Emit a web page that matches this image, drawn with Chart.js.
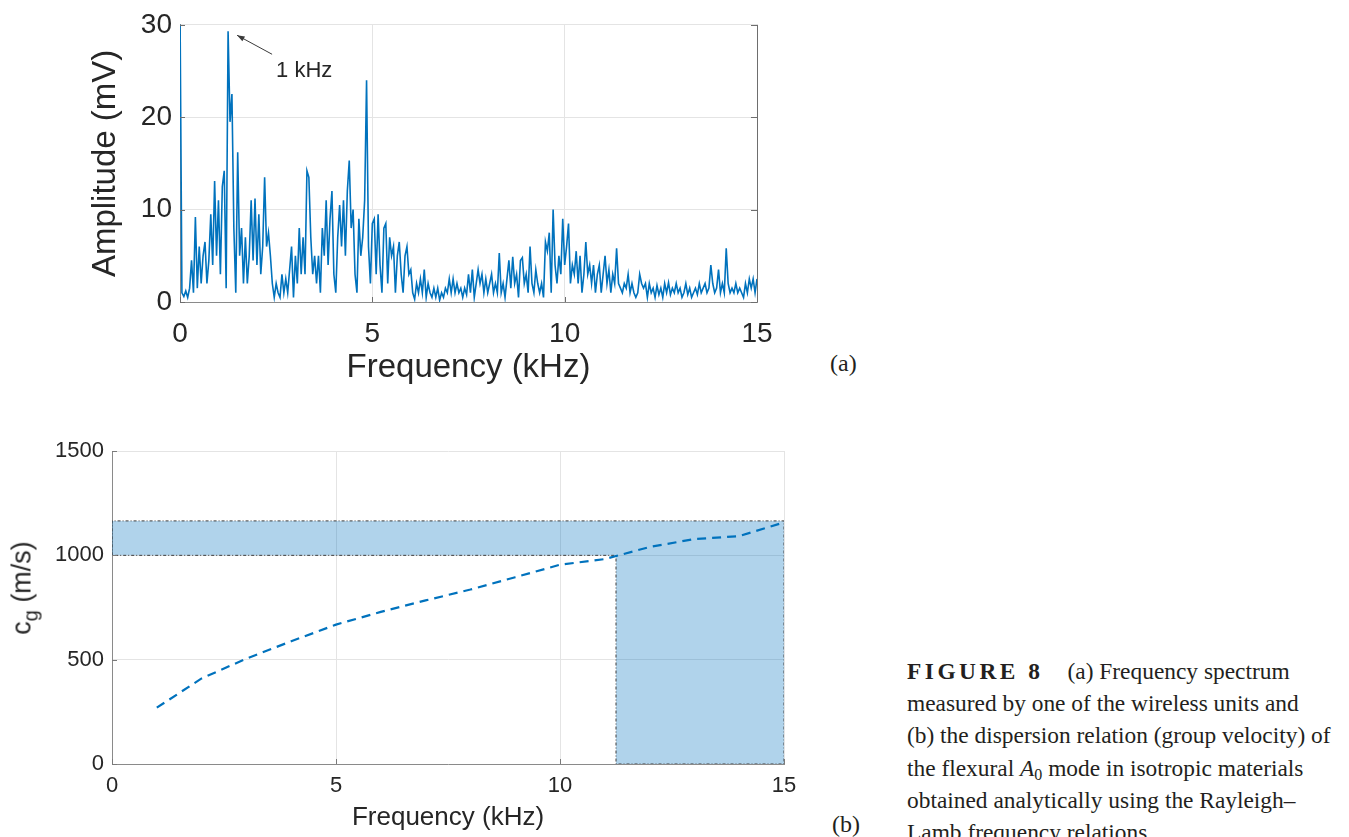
<!DOCTYPE html>
<html lang="en">
<head>
    <meta charset="UTF-8">
    <title>Figure 8 - spectrum and dispersion</title>
    <script src="https://cdn.jsdelivr.net/npm/chart.js"></script>
    <style>
        body {
            margin: 0;
            width: 1349px;
            height: 837px;
            overflow: hidden;
            position: relative;
            background: #fff;
        }
        .panel { position: absolute; }
        .tag {
            position: absolute;
            font: 24px "Liberation Serif", "Times New Roman", serif;
            color: #231f20;
        }
        #cgLabel {
            position: absolute;
            left: 22px;
            top: 588px;
            transform: translate(-50%, -50%) rotate(-90deg);
            font: 27px "Liberation Sans", Arial, sans-serif;
            color: #262626;
            white-space: nowrap;
        }
        #cgLabel sub { font-size: 20px; vertical-align: -7px; line-height: 0; }
        #caption {
            position: absolute;
            left: 907px;
            top: 655px;
            font: 23.4px/32.2px "Liberation Serif", "Times New Roman", serif;
            color: #231f20;
            white-space: nowrap;
        }
        #caption b { letter-spacing: 3.5px; margin-right: 24px; }
        #caption sub { font-size: 16px; line-height: 0; vertical-align: -4px; }
    </style>
</head>
<body>
    <div class="panel" style="left:0; top:0;"><canvas id="specChart" width="800" height="384"></canvas></div>
    <div class="panel" style="left:0; top:420px;"><canvas id="dispChart" width="820" height="417"></canvas></div>
    <div id="cgLabel">c<sub>g</sub> (m/s)</div>
    <div class="tag" style="left:830px; top:350px;">(a)</div>
    <div class="tag" style="left:832px; top:811px;">(b)</div>
    <div id="caption">
        <b>FIGURE 8</b>(a) Frequency spectrum<br>
        measured by one of the wireless units and<br>
        (b) the dispersion relation (group velocity) of<br>
        the flexural <i>A</i><sub>0</sub> mode in isotropic materials<br>
        obtained analytically using the Rayleigh–<br>
        Lamb frequency relations
    </div>

    <script>
        // (a) amplitude spectrum, one value every 0.05 kHz from 0 to 15 kHz (mV)
        const freqStep = 0.05;
        const amplitude = [
            32, 1.0, 0.6, 1.2, 0.5, 1.5, 4.5, 1.0, 9.2, 1.5, 6.0, 2.0, 5.0, 6.5, 2.0, 4.5, 9.5, 4.0, 13.1, 5.0,
            11.0, 3.0, 12.5, 14.2, 1.5, 29.3, 19.5, 22.5, 8.0, 1.0, 16.2, 5.0, 8.0, 2.0, 7.0, 2.0, 5.0, 11.0, 4.5, 11.2,
            4.0, 9.5, 3.0, 6.0, 13.5, 6.0, 7.5, 5.0, 2.0, 0.5, 2.0, 1.0, 0.5, 3.0, 1.0, 2.5, 1.0, 3.5, 6.0, 0.5,
            5.0, 2.0, 8.0, 3.0, 7.0, 3.0, 14.2, 13.5, 7.0, 3.0, 5.0, 2.0, 5.0, 1.0, 8.0, 5.0, 11.0, 4.0, 9.0, 12.0,
            3.0, 1.0, 7.0, 10.5, 6.0, 11.0, 5.0, 12.0, 15.3, 8.0, 10.0, 3.0, 1.0, 9.0, 5.0, 7.0, 11.0, 24.0, 6.0, 2.0,
            8.5, 9.0, 3.0, 9.5, 4.0, 1.0, 8.0, 8.5, 2.0, 7.0, 5.0, 6.0, 1.0, 5.0, 6.5, 3.0, 1.0, 5.0, 6.0, 3.0,
            3.5, 1.0, 0.3, 2.0, 1.0, 2.5, 1.0, 3.5, 0.5, 2.0, 1.0, 0.5, 1.5, 0.5, 1.5, 0.2, 1.0, 0.5, 1.5, 1.0,
            2.5, 1.0, 2.5, 1.0, 2.0, 1.0, 1.5, 0.5, 1.5, 0.8, 3.0, 1.0, 3.5, 0.5, 2.0, 3.5, 2.0, 3.0, 1.0, 2.5,
            1.0, 2.0, 3.0, 1.0, 2.0, 1.0, 5.3, 1.0, 2.0, 0.5, 2.5, 4.5, 1.5, 4.9, 2.0, 3.0, 0.5, 4.5, 4.8, 2.0,
            3.0, 1.0, 6.0, 2.0, 1.0, 3.5, 2.0, 1.0, 2.0, 0.5, 6.5, 5.5, 7.5, 1.0, 10.0, 4.0, 2.0, 5.0, 3.0, 9.0,
            4.0, 6.0, 8.5, 2.0, 4.0, 3.0, 5.5, 2.0, 5.0, 1.0, 3.0, 6.5, 3.0, 4.0, 2.0, 4.0, 1.0, 3.0, 4.0, 1.0,
            3.0, 5.0, 2.0, 3.5, 1.0, 3.0, 2.0, 5.8, 2.0, 1.5, 1.0, 2.0, 1.5, 3.0, 1.0, 2.0, 1.0, 0.5, 1.0, 3.0,
            2.0, 1.5, 2.0, 0.5, 2.0, 1.0, 1.5, 0.5, 1.8, 0.8, 1.5, 0.5, 2.0, 1.0, 2.1, 0.8, 1.5, 1.0, 2.0, 1.0,
            1.5, 0.5, 1.0, 2.0, 0.8, 1.5, 0.5, 1.0, 1.5, 0.8, 2.0, 1.0, 1.5, 2.0, 1.0, 1.5, 4.0, 2.0, 1.0, 1.5,
            3.5, 1.0, 2.0, 1.0, 5.8, 2.0, 1.0, 1.5, 1.0, 2.0, 1.0, 1.5, 1.0, 0.5, 2.0, 1.0, 2.5, 1.5, 2.5, 1.0,
            2.5
        ];
        const specXTicks = [0, 5, 10, 15];
        const specYTicks = [0, 10, 20, 30];
        const peakNote = '1 kHz';

        // (b) group velocity of the A0 mode
        const dispFreq = [1, 2, 3, 4, 5, 6, 7, 8, 9, 10, 11, 12, 13, 14, 15];
        const groupVel = [270, 410, 505, 588, 668, 729, 784, 836, 895, 955, 982, 1040, 1078, 1092, 1158];
        // shaded range: 1000 to 1165 m/s and 11.25 to 15 kHz
        const velLow = 1000, velHigh = 1165;
        const freqLow = 11.25, freqHigh = 15;
        const dispXTicks = [0, 5, 10, 15];
        const dispYTicks = [0, 500, 1000, 1500];

        const blue = '#0072BD';
        const textColor = '#262626';
        const gridColor = '#e4e4e4';
        const axisColor = '#8a8a8a';
        const sans = '"Liberation Sans", Arial, Helvetica, sans-serif';

        // matlab style ticks pointing into the axes
        const innerTicks = {
            id: 'innerTicks',
            afterDraw(chart, args, opts) {
                const { ctx, chartArea: a, scales: { x, y } } = chart;
                ctx.save();
                ctx.strokeStyle = opts.color || '#555';
                ctx.lineWidth = 1;
                ctx.beginPath();
                if (opts.rightLine) {
                    ctx.moveTo(Math.round(a.right) + 0.5, a.top);
                    ctx.lineTo(Math.round(a.right) + 0.5, a.bottom);
                }
                x.ticks.forEach(t => {
                    const px = Math.round(x.getPixelForValue(t.value)) + 0.5;
                    ctx.moveTo(px, a.bottom);
                    ctx.lineTo(px, a.bottom - 5);
                });
                y.ticks.forEach(t => {
                    const py = Math.round(y.getPixelForValue(t.value)) + 0.5;
                    ctx.moveTo(a.left, py);
                    ctx.lineTo(a.left + 5, py);
                    if (opts.rightLine) {
                        ctx.moveTo(a.right, py);
                        ctx.lineTo(a.right - 6, py);
                    }
                });
                ctx.stroke();
                ctx.restore();
            }
        };

        // arrow + text pointing at the main peak
        const peakLabel = {
            id: 'peakLabel',
            afterDatasetsDraw(chart) {
                const meta = chart.getDatasetMeta(0);
                let k = 1;
                for (let i = 1; i < amplitude.length; i++) {
                    if (amplitude[i] > amplitude[k]) k = i;
                }
                const p = meta.data[k];
                const ctx = chart.ctx;
                const tipX = p.x + 9, tipY = p.y + 4;
                const tailX = p.x + 44, tailY = p.y + 23;
                const ang = Math.atan2(tipY - tailY, tipX - tailX);
                ctx.save();
                ctx.strokeStyle = '#3a3a3a';
                ctx.fillStyle = '#3a3a3a';
                ctx.lineWidth = 1;
                ctx.beginPath();
                ctx.moveTo(tailX, tailY);
                ctx.lineTo(tipX, tipY);
                ctx.stroke();
                ctx.beginPath();
                ctx.moveTo(tipX, tipY);
                ctx.lineTo(tipX - 8 * Math.cos(ang - 0.35), tipY - 8 * Math.sin(ang - 0.35));
                ctx.lineTo(tipX - 8 * Math.cos(ang + 0.35), tipY - 8 * Math.sin(ang + 0.35));
                ctx.closePath();
                ctx.fill();
                ctx.fillStyle = textColor;
                ctx.font = '22px ' + sans;
                ctx.textAlign = 'left';
                ctx.textBaseline = 'middle';
                ctx.fillText(peakNote, p.x + 48, p.y + 40);
                ctx.restore();
            }
        };

        // grafico (a)
        const specPoints = amplitude.map((v, i) => ({ x: i * freqStep, y: v }));
        new Chart(document.getElementById('specChart'), {
            type: 'line',
            data: {
                datasets: [{
                    data: specPoints,
                    borderColor: blue,
                    borderWidth: 1.6,
                    pointRadius: 0,
                    tension: 0,
                    fill: false
                }]
            },
            options: {
                responsive: false,
                animation: false,
                layout: { padding: { left: 0, top: 21, right: 43, bottom: 0 } },
                plugins: {
                    legend: { display: false },
                    tooltip: { enabled: false },
                    innerTicks: { color: '#6e6e6e', rightLine: true }
                },
                scales: {
                    x: {
                        type: 'linear',
                        min: 0, max: 15,
                        afterFit: s => { s.height = 82; },
                        afterBuildTicks: s => { s.ticks = specXTicks.map(v => ({ value: v })); },
                        grid: { color: gridColor, drawTicks: false },
                        border: { color: axisColor },
                        ticks: { color: textColor, padding: 15, maxRotation: 0, callback: v => String(v),
                                 font: { family: sans, size: 28 } },
                        title: { display: true, text: 'Frequency (kHz)', color: textColor, padding: { top: 0, bottom: 0 },
                                 font: { family: sans, size: 33, lineHeight: 1 } }
                    },
                    y: {
                        min: 0, max: 30,
                        afterFit: s => { s.width = 180; },
                        afterBuildTicks: s => { s.ticks = specYTicks.map(v => ({ value: v })); },
                        grid: { color: gridColor, drawTicks: false },
                        border: { color: axisColor },
                        ticks: { color: textColor, padding: 8, callback: v => String(v),
                                 font: { family: sans, size: 28 } },
                        title: { display: true, text: 'Amplitude (mV)', color: textColor, padding: { top: 89, bottom: 0 },
                                 font: { family: sans, size: 33, lineHeight: 1 } }
                    }
                }
            },
            plugins: [innerTicks, peakLabel]
        });

        // grafico (b)
        const bandShape = [
            { x: 0, y: velLow }, { x: 0, y: velHigh }, { x: freqHigh, y: velHigh }, { x: freqHigh, y: 0 },
            { x: freqLow, y: 0 }, { x: freqLow, y: velLow }, { x: 0, y: velLow }
        ];
        new Chart(document.getElementById('dispChart'), {
            type: 'line',
            data: {
                datasets: [
                    {
                        data: dispFreq.map((f, i) => ({ x: f, y: groupVel[i] })),
                        borderColor: blue,
                        borderWidth: 2.2,
                        borderDash: [9, 6],
                        pointRadius: 0,
                        tension: 0,
                        fill: false,
                        order: 1
                    },
                    {
                        data: bandShape,
                        borderColor: '#3c3c3c',
                        borderWidth: 1,
                        borderDash: [3, 2, 1, 2],
                        backgroundColor: 'rgba(0, 114, 189, 0.31)',
                        pointRadius: 0,
                        tension: 0,
                        fill: 'shape',
                        order: 2
                    }
                ]
            },
            options: {
                responsive: false,
                animation: false,
                layout: { padding: { left: 0, top: 31, right: 36, bottom: 0 } },
                plugins: {
                    legend: { display: false },
                    tooltip: { enabled: false },
                    innerTicks: { color: '#7a7a7a', rightLine: false }
                },
                scales: {
                    x: {
                        type: 'linear',
                        min: 0, max: 15,
                        afterFit: s => { s.height = 73; },
                        afterBuildTicks: s => { s.ticks = dispXTicks.map(v => ({ value: v })); },
                        grid: { color: gridColor, drawTicks: false },
                        border: { color: axisColor },
                        ticks: { color: textColor, padding: 9, maxRotation: 0, callback: v => String(v),
                                 font: { family: sans, size: 22 } },
                        title: { display: true, text: 'Frequency (kHz)', color: textColor, padding: { top: 0, bottom: 6 },
                                 font: { family: sans, size: 26, lineHeight: 1 } }
                    },
                    y: {
                        min: 0, max: 1500,
                        afterFit: s => { s.width = 112; },
                        afterBuildTicks: s => { s.ticks = dispYTicks.map(v => ({ value: v })); },
                        grid: { color: gridColor, drawTicks: false },
                        border: { color: axisColor },
                        ticks: { color: textColor, padding: 8, callback: v => String(v),
                                 font: { family: sans, size: 22 } }
                    }
                }
            },
            plugins: [innerTicks]
        });
    </script>
</body>
</html>
